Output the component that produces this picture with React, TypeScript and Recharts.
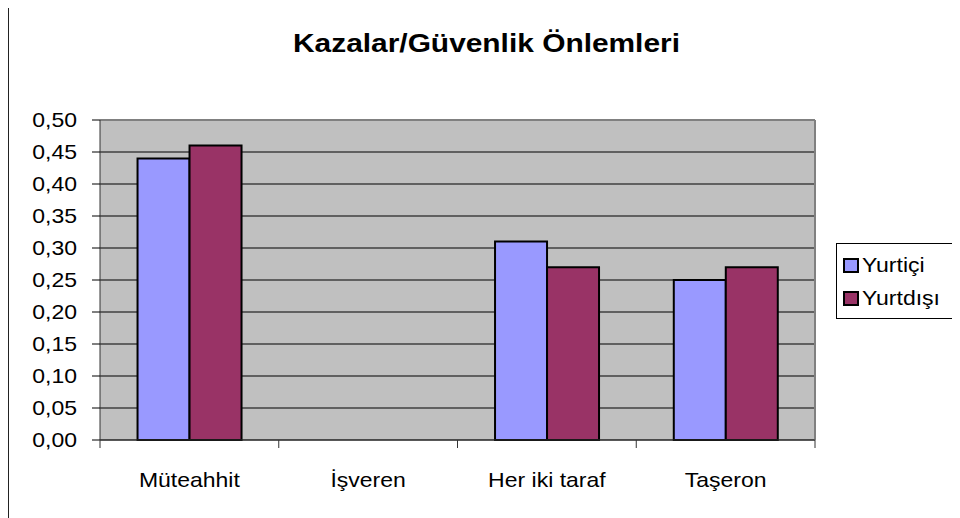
import { Bar, BarChart, CartesianGrid, ReferenceLine, XAxis, YAxis } from "recharts";

const categories = ["Müteahhit", "İşveren", "Her iki taraf", "Taşeron"];
const yurtici = [0.44, 0, 0.31, 0.25];
const yurtdisi = [0.46, 0, 0.27, 0.27];
const yTicks = [0, 0.05, 0.1, 0.15, 0.2, 0.25, 0.3, 0.35, 0.4, 0.45, 0.5];

const seriesNames = ["Yurtiçi", "Yurtdışı"];
const seriesColors = ["#9999FF", "#993366"];

const data = categories.map((name, i) => ({
    name,
    yurtici: yurtici[i],
    yurtdisi: yurtdisi[i],
}));

const FONT = "Arial, 'Liberation Sans', sans-serif";
// the source picture is stretched sideways, so text is too
const STRETCH = 1.15;

const YTick = (props: any) => {
    const { x, y, payload } = props;
    return (
        <g transform={`translate(${x},${y})`}>
            <text
                textAnchor="end"
                dy="0.36em"
                fontFamily={FONT}
                fontSize={20}
                fill="#000"
                transform={`scale(${STRETCH},1)`}
            >
                {Number(payload.value).toFixed(2).replace(".", ",")}
            </text>
        </g>
    );
};

// category labels, plus the small tick marks that sit between categories
const XTick = (props: any) => {
    const { x, y, payload, index } = props;
    const half = payload.offset ?? 0;
    const axisY = y - 8;
    const last = index === categories.length - 1;
    return (
        <g>
            <line x1={x - half} x2={x - half} y1={axisY} y2={axisY + 8} stroke="#333" />
            {last && <line x1={x + half} x2={x + half} y1={axisY} y2={axisY + 8} stroke="#333" />}
            <text
                transform={`translate(${x},${axisY + 47}) scale(${STRETCH},1)`}
                textAnchor="middle"
                fontFamily={FONT}
                fontSize={20}
                fill="#000"
            >
                {payload.value}
            </text>
        </g>
    );
};

const LegendBox = () => (
    <div
        style={{
            position: "absolute",
            left: 836,
            top: 243,
            width: 124,
            height: 76,
            boxSizing: "border-box",
            border: "1.5px solid #000",
            background: "#fff",
            paddingTop: 5,
            paddingLeft: 6,
            fontFamily: FONT,
            fontSize: 20,
        }}
    >
        {seriesNames.map((n, i) => (
            <div key={n} style={{ display: "flex", alignItems: "center", height: 33 }}>
                <span
                    style={{
                        width: 16,
                        height: 15,
                        boxSizing: "border-box",
                        border: "2px solid #000",
                        background: seriesColors[i],
                        marginRight: 3,
                    }}
                />
                <span style={{ display: "inline-block", transform: `scaleX(${STRETCH})`, transformOrigin: "left" }}>
                    {n}
                </span>
            </div>
        ))}
    </div>
);

export default function App() {
    return (
        <div style={{ position: "relative", width: 960, height: 518, margin: "-8px 0 0 -8px", background: "#fff" }}>
            <div
                style={{
                    position: "absolute",
                    left: 7,
                    top: 5,
                    width: 953,
                    height: 513,
                    boxSizing: "border-box",
                    borderLeft: "2px solid #222",
                    borderTop: "2px solid #222",
                }}
            />
            <svg width={960} height={80} style={{ position: "absolute", left: 0, top: 0 }}>
                <text
                    transform={`translate(486.5,52) scale(${STRETCH},1)`}
                    textAnchor="middle"
                    fontFamily={FONT}
                    fontWeight="bold"
                    fontSize={26}
                    fill="#000"
                >
                    Kazalar/Güvenlik Önlemleri
                </text>
            </svg>
            <div style={{ position: "absolute", left: 0, top: 0 }}>
                <BarChart
                    width={960}
                    height={518}
                    data={data}
                    margin={{ top: 120, right: 145, bottom: 28, left: 8 }}
                    barCategoryGap="21%"
                    barGap={0}
                >
                    <CartesianGrid fill="#C0C0C0" stroke="#000" vertical={false} />
                    {/* grey right edge of the plot area */}
                    <CartesianGrid horizontal={false} stroke="#808080" strokeWidth={2}
                        verticalCoordinatesGenerator={({ offset }: any) => [offset.left + offset.width]} />
                    <XAxis dataKey="name" tickLine={false} tickSize={6} tickMargin={2}
                        axisLine={{ stroke: "#333", strokeWidth: 1 }}
                        height={50} tick={<XTick />} interval={0} />
                    <YAxis domain={[0, 0.5]} ticks={yTicks} width={92} tickSize={8} tickMargin={15}
                        tickLine={{ stroke: "#000" }} axisLine={{ stroke: "#333" }} tick={<YTick />} interval={0} />
                    <ReferenceLine y={0.5} stroke="#808080" strokeWidth={2} />
                    <Bar dataKey="yurtici" name={seriesNames[0]} fill={seriesColors[0]} stroke="#000" strokeWidth={2} isAnimationActive={false} />
                    <Bar dataKey="yurtdisi" name={seriesNames[1]} fill={seriesColors[1]} stroke="#000" strokeWidth={2} isAnimationActive={false} />
                </BarChart>
            </div>
            <LegendBox />
        </div>
    );
}
